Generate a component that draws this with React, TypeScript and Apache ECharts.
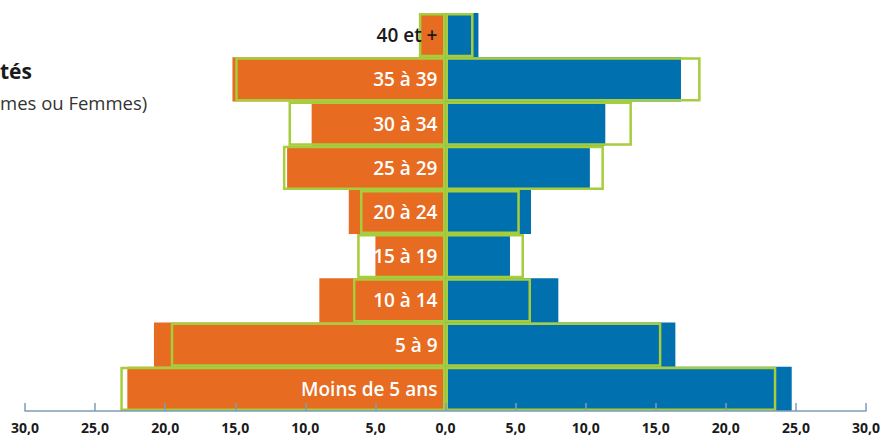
import React, { useEffect, useRef } from "react";
import * as echarts from "echarts";

const categories = ["Moins de 5 ans", "5 à 9", "10 à 14", "15 à 19", "20 à 24", "25 à 29", "30 à 34", "35 à 39", "40 et +"];
const leftBars = [22.7, 20.8, 9.0, 5.0, 6.9, 11.3, 9.55, 15.2, 1.85];
const leftOutline = [23.2, 19.6, 6.6, 6.3, 6.1, 11.6, 11.2, 15.0, 1.9];
const rightBars = [24.7, 16.4, 8.05, 4.6, 6.1, 10.3, 11.4, 16.8, 2.35];
const rightOutline = [23.6, 15.4, 6.1, 5.6, 5.3, 11.3, 13.3, 18.2, 2.0];
const titleFragment = "tés";
const subtitleFragment = "mes ou Femmes)";

const ORANGE = "#e76b20";
const BLUE = "#0070ae";
const GREEN = "#a6cd3c";
const AXIS = "#7c9db9";
const FONT = "'Open Sans', 'Noto Sans', sans-serif";

export default function App() {
  const ref = useRef<HTMLDivElement>(null);
  useEffect(() => {
    if (!ref.current) return;
    const chart = echarts.init(ref.current, undefined, { renderer: "svg" });
    const outlineStyle = { color: "rgba(0,0,0,0)", borderColor: GREEN, borderWidth: 2.5 };
    chart.setOption({
      animation: false,
      backgroundColor: "#ffffff",
      graphic: [
        { type: "text", left: 0, top: 60, style: { text: titleFragment, font: `bold 21px ${FONT}`, fill: "#1a1a1a" } },
        { type: "text", left: 0, top: 93, style: { text: subtitleFragment, font: `18.5px ${FONT}`, fill: "#333" } },
      ],
      grid: { left: 25, right: 17, top: 13, bottom: 24, containLabel: false, outerBoundsMode: "none" },
      xAxis: {
        type: "value",
        min: -30,
        max: 30,
        interval: 5,
        z: 10,
        splitLine: { show: false },
        axisLine: { show: true, lineStyle: { color: AXIS, width: 1.5 } },
        axisTick: { show: true, inside: true, length: 8, lineStyle: { color: AXIS, width: 1.5 } },
        axisLabel: {
          margin: 9,
          color: "#1a1a1a",
          fontWeight: "bold",
          fontSize: 14,
          fontFamily: FONT,
          formatter: (v: number) => Math.abs(v).toFixed(1).replace(".", ","),
        },
      },
      yAxis: {
        type: "category",
        data: categories,
        axisLine: { show: false },
        axisTick: { show: false },
        splitLine: { show: false },
        axisLabel: { show: false },
      },
      series: [
        {
          type: "bar",
          data: leftBars.map((v) => -v),
          barGap: "-100%",
          barCategoryGap: "3%",
          itemStyle: { color: ORANGE },
          z: 2,
        },
        {
          type: "bar",
          data: rightBars,
          barGap: "-100%",
          barCategoryGap: "3%",
          itemStyle: { color: BLUE },
          z: 2,
        },
        {
          type: "bar",
          data: rightOutline,
          barGap: "-100%",
          barCategoryGap: "0%",
          itemStyle: outlineStyle,
          z: 3,
        },
        {
          type: "bar",
          data: leftOutline.map((v, i) => ({
            value: -v,
            label: { color: i === categories.length - 1 ? "#1a1a1a" : "#ffffff" },
          })),
          barGap: "-100%",
          barCategoryGap: "0%",
          itemStyle: outlineStyle,
          z: 4,
          label: {
            show: true,
            position: "insideRight",
            distance: 8,
            fontSize: 19,
            fontWeight: 600,
            fontFamily: FONT,
            formatter: (p: any) => categories[p.dataIndex],
          },
        },
      ],
    });
    return () => chart.dispose();
  }, []);
  return <div ref={ref} style={{ position: "fixed", left: 0, top: 0, width: 883, height: 435 }} />;
}
